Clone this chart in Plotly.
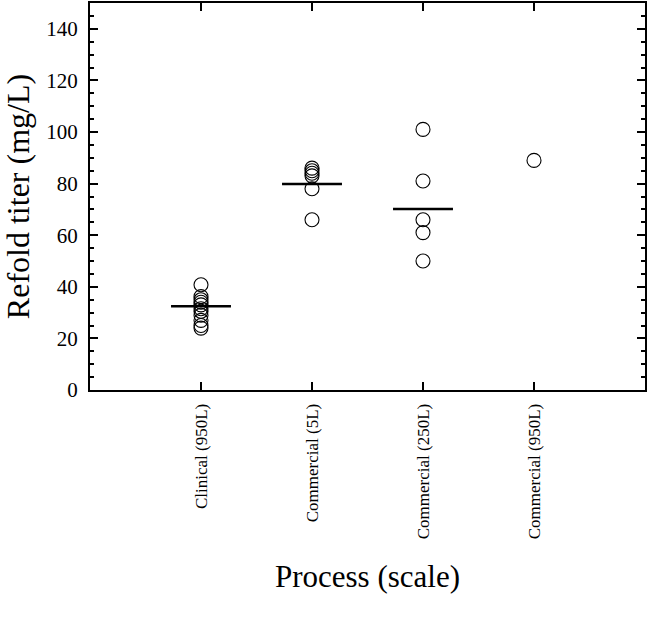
import plotly.graph_objects as go

categories = ["Clinical (950L)", "Commercial (5L)", "Commercial (250L)", "Commercial (950L)"]
clinical_950 = [40.8, 36.2, 35.0, 34.0, 33.0, 31.5, 30.5, 29.0, 27.0, 25.0, 24.0]
commercial_5 = [86.0, 85.0, 84.0, 83.0, 78.0, 66.0]
commercial_250 = [101.0, 81.0, 66.0, 61.0, 50.0]
commercial_950 = [89.0]
means = [32.5, 79.8, 70.2, None]

series = [clinical_950, commercial_5, commercial_250, commercial_950]

font_family = "Liberation Serif, Times New Roman, serif"

fig = go.Figure()

xs, ys = [], []
for i, vals in enumerate(series):
    xs += [i] * len(vals)
    ys += vals

fig.add_trace(go.Scatter(
    x=xs, y=ys, mode="markers",
    marker=dict(symbol="circle-open", size=14, color="black", line=dict(width=1.1, color="black")),
    showlegend=False, hoverinfo="y",
))

mx, my = [], []
for i, m in enumerate(means):
    if m is None:
        continue
    mx += [i - 0.27, i + 0.27, None]
    my += [m, m, None]

fig.add_trace(go.Scatter(
    x=mx, y=my, mode="lines",
    line=dict(color="black", width=2.5),
    showlegend=False, hoverinfo="skip",
))

fig.update_layout(
    width=648, height=619,
    margin=dict(l=90, r=1, t=2, b=229),
    plot_bgcolor="white", paper_bgcolor="white",
    font=dict(family=font_family, color="black"),
    xaxis=dict(
        range=[-1, 4], tickmode="array", tickvals=list(range(len(categories))), ticktext=categories,
        tickangle=-90, tickfont=dict(size=17, family=font_family),
        ticks="inside", ticklen=8, tickwidth=2, tickcolor="black",
        ticklabelstandoff=5,
        showline=True, linecolor="black", linewidth=2, mirror="ticks",
        showgrid=False, zeroline=False,
        title=dict(text="Process (scale)", font=dict(size=31, family=font_family), standoff=27),
    ),
    yaxis=dict(
        range=[0, 150], tickmode="linear", tick0=0, dtick=20,
        tickfont=dict(size=21, family=font_family),
        ticks="inside", ticklen=8, tickwidth=2, tickcolor="black",
        ticklabelstandoff=6,
        minor=dict(ticks="inside", ticklen=4, tickwidth=1.5, tickcolor="black", dtick=5, showgrid=False),
        showline=True, linecolor="black", linewidth=2, mirror="ticks",
        showgrid=False, zeroline=False,
        title=dict(text="Refold titer (mg/L)", font=dict(size=32, family=font_family), standoff=13),
    ),
)

fig.write_html(
    "out.html",
    config={"displayModeBar": False},
    post_script="document.body.style.margin='0';document.body.style.overflow='hidden';",
)
